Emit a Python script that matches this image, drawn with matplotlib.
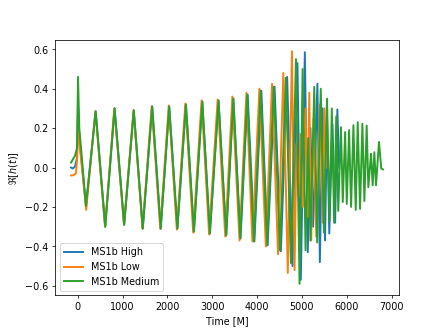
import numpy as np
import matplotlib
matplotlib.use("Agg")
from matplotlib import pyplot as plt

# extrema (time in M, Re[h])
# shared inspiral part for High and Medium
early_t = [184, 400, 614, 822, 1036, 1250, 1450, 1660, 1851, 2040, 2222, 2413,
           2591, 2778, 2947, 3140, 3311, 3470]
early_y = [-0.195, 0.285, -0.30, 0.30, -0.29, 0.29, -0.31, 0.31, -0.31, 0.31,
           -0.31, 0.32, -0.325, 0.335, -0.335, 0.34, -0.345, 0.35]

high_start_t = [-150, -110, -60, -15, 7, 36]
high_start_y = [0.0, -0.005, 0.005, 0.05, 0.31, 0.15]
high_tail_t = [3630, 3790, 3940, 4095, 4235, 4390, 4530, 4670, 4790, 4900, 4975,
               5065, 5130, 5190, 5250, 5345, 5400, 5460, 5515, 5560, 5610, 5680,
               5740, 5790, 5830]
high_tail_y = [-0.36, 0.37, -0.375, 0.39, -0.395, 0.41, -0.425, 0.46, -0.50,
               0.53, -0.57, 0.585, -0.43, 0.20, -0.30, 0.425, -0.48, 0.30, -0.37,
               0.25, -0.335, 0.22, -0.28, 0.295, 0.0]

med_start_t = [-150, -60, -15, 7, 36]
med_start_y = [0.025, 0.06, 0.10, 0.46, 0.20]
med_tail_t = [3625, 3780, 3930, 4080, 4225, 4370, 4510, 4640, 4755, 4867, 4947,
              5015, 5080, 5140, 5190, 5275, 5340, 5420, 5490, 5560, 5615, 5667,
              5718, 5765, 5810, 5870, 5911, 5963, 6000, 6052, 6096, 6148, 6200,
              6244, 6296, 6348, 6393, 6444, 6481, 6540, 6578, 6615, 6652, 6718,
              6770, 6810]
med_tail_y = [-0.36, 0.37, -0.375, 0.39, -0.395, 0.41, -0.42, 0.455, -0.485,
              0.55, -0.59, 0.50, -0.42, 0.15, -0.37, 0.41, -0.38, 0.40, -0.33,
              0.35, -0.27, 0.30, -0.28, 0.26, -0.22, 0.205, -0.175, 0.18, -0.185,
              0.19, -0.20, 0.215, -0.215, 0.23, -0.21, 0.222, -0.17, 0.213, -0.10,
              0.07, -0.09, 0.078, -0.09, 0.13, -0.005, -0.01]

low_t = [-150, -110, -40, -10, 5, 40, 190, 395, 608, 815, 1030, 1245, 1445,
         1650, 1840, 2030, 2210, 2400, 2575, 2762, 2930, 3120, 3290, 3448, 3608,
         3762, 3895, 4051, 4195, 4333, 4467, 4585, 4685, 4778, 4836, 4880, 4925,
         4970, 5020, 5080, 5125, 5164, 5207, 5260, 5320, 5400, 5467, 5502, 5545]
low_y = [-0.04, -0.04, -0.03, 0.05, 0.28, 0.12, -0.215, 0.285, -0.30, 0.30,
         -0.29, 0.29, -0.31, 0.31, -0.31, 0.315, -0.315, 0.325, -0.33, 0.34,
         -0.34, 0.345, -0.35, 0.36, -0.37, 0.38, -0.375, 0.40, -0.40, 0.425,
         -0.44, 0.48, -0.535, 0.59, -0.52, 0.12, -0.15, 0.17, -0.20, 0.30, -0.25,
         0.38, -0.37, 0.25, -0.35, 0.32, -0.28, 0.30, 0.0]

high_t = high_start_t + early_t + high_tail_t
high_y = high_start_y + early_y + high_tail_y
med_t = med_start_t + early_t + med_tail_t
med_y = med_start_y + early_y + med_tail_y

fig = plt.figure(figsize=(6.4, 4.8))
ax = fig.add_subplot(111)
ax.plot(high_t, high_y, lw=2, label="MS1b High")
ax.plot(low_t, low_y, lw=2, label="MS1b Low")
ax.plot(med_t, med_y, lw=2, label="MS1b Medium")
ax.set_xlabel("Time [M]")
ax.set_ylabel(r"$\Re[h(t)]$")
ax.legend(loc="lower left")

fig.savefig("out.png", dpi=443 / 6.4)
